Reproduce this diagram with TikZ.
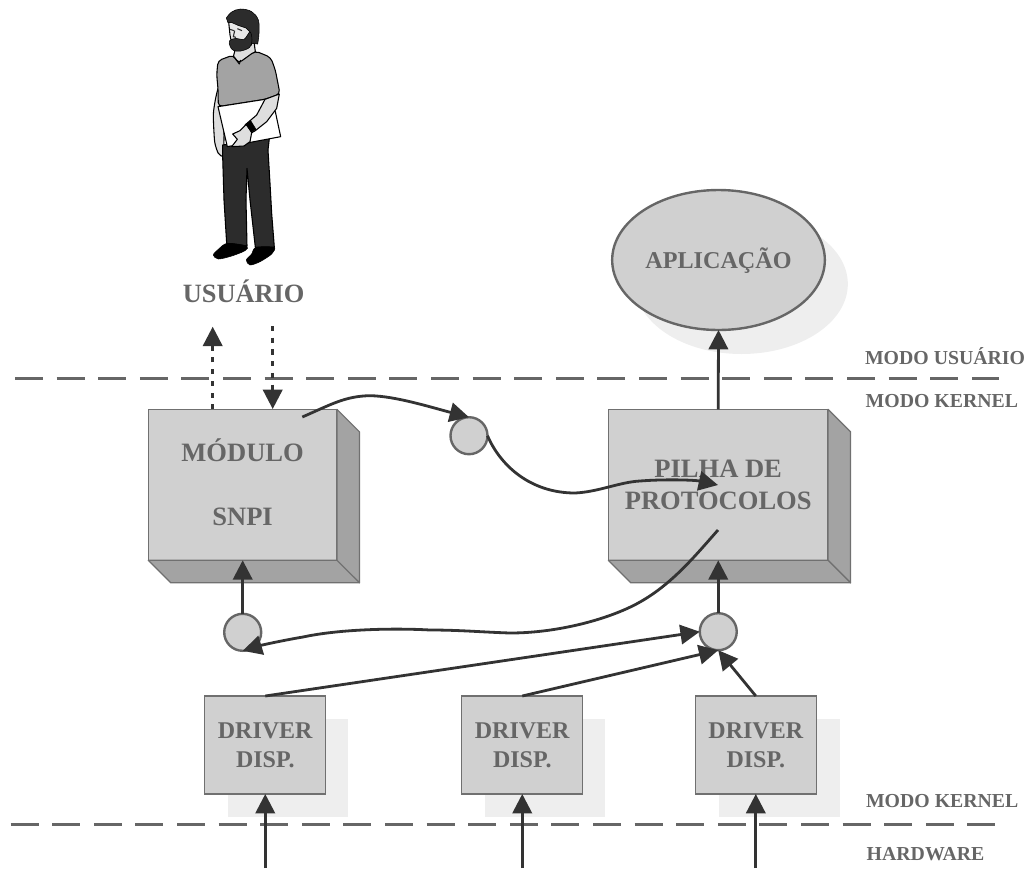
\documentclass[tikz,border=0pt]{standalone}
\usepackage{fontspec}
\setmainfont{Liberation Serif}
\usetikzlibrary{arrows.meta,shapes.geometric}
\definecolor{txtg}{HTML}{666666}
\definecolor{frontg}{HTML}{D0D0D0}
\definecolor{sideg}{HTML}{A3A3A3}
\definecolor{edgeg}{HTML}{707070}
\definecolor{shadowg}{HTML}{EEEEEE}
\definecolor{darkg}{HTML}{333333}
\definecolor{pantg}{HTML}{2C2C2C}
\definecolor{skin}{HTML}{DEDEDE}
\newcommand{\capln}[2]{\smash{#2}\rule{0pt}{#1}}
\tikzset{
  x=0.75pt,y=-0.75pt,
  boxfront/.style={draw=edgeg,fill=frontg,line width=0.9pt,inner sep=0pt,outer sep=0pt,minimum width=141.5pt,align=center,text=txtg},
  boxside/.style={draw=edgeg,fill=sideg,line width=0.9pt,line join=round},
  drv/.style={draw=edgeg,fill=frontg,line width=0.9pt,inner sep=0pt,outer sep=0pt,minimum width=90.6pt,minimum height=73.5pt,align=center,text=txtg,font=\bfseries\fontsize{18}{21.75}\selectfont},
  drvshadow/.style={fill=shadowg,inner sep=0pt,outer sep=0pt,minimum width=90.6pt,minimum height=73.5pt},
  junction/.style={circle,draw=txtg,fill=frontg,line width=1.8pt,inner sep=0pt,outer sep=0pt,minimum size=27.75pt},
  lbl/.style={text=txtg,inner sep=0pt,outer sep=0pt,font=\bfseries\fontsize{14.85}{17}\selectfont},
  sepline/.style={draw=txtg,line width=2.1pt,dash pattern=on 21pt off 10.2pt},
  conn/.style={draw=darkg,line width=2.1pt,-{Triangle[length=14.5pt,width=14.5pt]}},
  dotconn/.style={draw=darkg,line width=2.1pt,dash pattern=on 3.8pt off 5pt,-{Triangle[length=14.5pt,width=14.5pt]}},
  man/.style={draw=black,line width=0.8pt,line join=round},
}
\begin{document}
\begin{tikzpicture}
\useasboundingbox (0,0) rectangle (1027,868);

% ---- man (coordinates in 3x zoom of the region starting at x=150)
\begin{scope}[shift={(150,0)},scale=1/3]
  % left arm
  \draw[man,fill=skin] plot[smooth cycle,tension=0.4] coordinates {(206,262) (222,280) (214,325) (222,400) (219,466) (205,460) (194,425) (190,345) (196,300)};
  % trousers
  \draw[man,fill=pantg] (218,435) -- (358,415) -- (354,450) -- (360,550) -- (365,640) -- (373,742) -- (316,742) -- (300,600) -- (291,505) -- (288,600) -- (291,738) -- (230,730) -- (222,600) -- (218,470) -- cycle;
  % shoes
  \draw[fill=black,draw=black] plot[smooth cycle,tension=0.5] coordinates {(232,730) (290,738) (285,752) (245,768) (205,777) (190,765) (205,748)};
  \draw[fill=black,draw=black] plot[smooth cycle,tension=0.5] coordinates {(318,742) (372,742) (365,762) (330,785) (300,795) (289,780) (305,762)};
  % neck
  \draw[man,fill=skin] (258,140) -- (312,125) -- (316,155) -- (264,192) -- (250,170) -- cycle;
  % shirt
  \draw[man,fill=sideg,rounded corners=3pt] (204,182) -- (250,165) -- (265,190) -- (316,153) -- (362,172) -- (376,210) -- (390,282) -- (345,298) -- (205,320) -- (204,265) -- (200,225) -- cycle;
  % folder
  \draw[man,fill=white] (204,320) -- (345,298) -- (376,335) -- (392,410) -- (232,440) -- cycle;
  % forearm
  \draw[man,fill=skin] (345,298) -- (388,282) -- (380,325) -- (350,365) -- (316,392) -- (302,400) -- (285,375) -- (320,345) -- cycle;
  % hand
  \draw[man,fill=skin] (290,372) -- (305,398) -- (300,425) -- (282,438) -- (245,440) -- (262,418) -- (248,402) -- (270,392) -- cycle;
  % watch
  \draw[fill=black,draw=black] (287,373) -- (302,362) -- (318,388) -- (304,396) -- cycle;
  % face
  \draw[man,fill=skin!70!white] (236,66) -- (300,70) -- (304,135) -- (245,130) -- (240,105) -- cycle;
  % hair
  \draw[fill=pantg,draw=black] plot[smooth,tension=0.6] coordinates {(229,54) (245,36) (272,27) (305,35) (325,60) (327,100) (323,132)} -- (304,130) -- (300,96) -- (288,84) -- (264,76) -- (246,68) -- (234,68) -- cycle;
  % beard
  \draw[fill=pantg,draw=black] plot[smooth cycle,tension=0.6] coordinates {(239,122) (258,115) (282,118) (300,96) (306,120) (299,142) (272,153) (250,151) (240,138)};
  % eyes & nose
  \draw[pantg,line width=0.8pt] (240,88) -- (252,92) (262,86) -- (276,92) (254,92) -- (250,110) -- (258,112);
  % collar
  \draw[man,fill=none] (250,168) -- (268,192) -- (272,180);
\end{scope}

% ---- application ellipse
\node[ellipse,fill=shadowg,inner sep=0pt,minimum width=159.5pt,minimum height=105pt] (appshadow) at (741.5,284) {};
\node[ellipse,draw=txtg,fill=frontg,line width=1.8pt,inner sep=0pt,outer sep=0pt,minimum width=159.5pt,minimum height=105pt,text=txtg,font=\bfseries\fontsize{18.1}{22}\selectfont] (app) at (718.5,260) {\capln{12pt}{APLICAÇÃO}};

% ---- separator lines (under the connectors)
\coordinate (sepAl) at (15,378.3);
\coordinate (sepAr) at (999,378.3);
\coordinate (sepBl) at (10.6,824.3);
\coordinate (sepBr) at (995,824.3);

% ---- driver shadows
\node[drvshadow] (shA) at (288,767.7) {};
\node[drvshadow] (shB) at (545,767.7) {};
\node[drvshadow] (shC) at (779.3,767.7) {};
\draw[sepline] (sepAl) -- (sepAr);
\draw[sepline] (sepBl) -- (sepBr);

% ---- SNPI box
\node[boxfront,minimum height=113.25pt,font=\bfseries\fontsize{19.9}{48}\selectfont] (snpi) at (242.6,484.8) {\capln{13.1pt}{MÓDULO}\\\capln{13.1pt}{SNPI}};
\draw[boxside] (snpi.north east) -- ++(22.5,22.5) -- ++(0,151) -- ++(-22.5,-22.5) -- cycle;
\draw[boxside] (snpi.south west) -- ++(22.5,22.5) -- ++(188.7,0) -- (snpi.south east) -- cycle;

% ---- protocol stack box
\node[boxfront,minimum width=164.8pt,minimum height=113.25pt,font=\bfseries\fontsize{19.9}{24}\selectfont] (pilha) at (718.2,484.8) {\capln{13.1pt}{PILHA DE}\\\capln{13.1pt}{PROTOCOLOS}};
\draw[boxside] (pilha.north east) -- ++(22.5,22.5) -- ++(0,151) -- ++(-22.5,-22.5) -- cycle;
\draw[boxside] (pilha.south west) -- ++(22.5,22.5) -- ++(219.7,0) -- (pilha.south east) -- cycle;

% ---- drivers
\node[drv] (drvA) at (265.25,745) {\capln{12pt}{DRIVER}\\\capln{12pt}{DISP.}};
\node[drv] (drvB) at (522.25,745) {\capln{12pt}{DRIVER}\\\capln{12pt}{DISP.}};
\node[drv] (drvC) at (755.8,745) {\capln{12pt}{DRIVER}\\\capln{12pt}{DISP.}};

% ---- junctions
\node[junction] (cA) at (469,435.7) {};
\node[junction] (cB) at (242.7,632.3) {};
\node[junction] (cC) at (718.25,631.7) {};

% ---- labels
\node[text=txtg,inner sep=0pt,anchor=base west,font=\bfseries\fontsize{19.8}{24}\selectfont] (user) at (182.5,302.3) {USUÁRIO};
\node[lbl,anchor=base west] (lmu) at (865,364) {MODO USUÁRIO};
\node[lbl,anchor=base west] (lmk) at (865.7,407.3) {MODO KERNEL};
\node[lbl,anchor=base west] (lmk2) at (866,807) {MODO KERNEL};
\node[lbl,anchor=base west] (lhw) at (866.7,860) {HARDWARE};

% ---- free ends
\coordinate (hwA) at (drvA.north |- 0,868);
\coordinate (hwB) at (drvB.north |- 0,868);
\coordinate (hwC) at (drvC.north |- 0,868);
\coordinate (upS) at (212.7,326.7);
\coordinate (dnS) at (272.7,326);
\coordinate (snpiUp) at (212.7,409.3);
\coordinate (snpiDn) at (272.7,409);
\coordinate (snpiOut) at (302.3,417);
\coordinate (pilhaIn) at (718,485);
\coordinate (pilhaOut) at (718,530);

% ---- connectors
\draw[conn] (hwA) -- (drvA.south);
\draw[conn] (hwB) -- (drvB.south);
\draw[conn] (hwC) -- (drvC.south);
\draw[conn] (drvA.north) -- (cC.west);
\draw[conn] (drvB.north) -- (cC.south);
\draw[conn] (drvC.north) -- (cC.south);
\draw[conn] (cC.north) -- (cC.north |- pilha.south);
\draw[conn] (cB.north) -- (cB.north |- snpi.south);
\draw[conn] (pilha.north) -- (app.south);
\draw[dotconn] (snpiUp) -- (upS);
\draw[dotconn] (dnS) -- (snpiDn);
\draw[conn] (snpiOut) .. controls (330,405) and (345,396) .. (370,395.7) .. controls (395,396) and (430,407) .. (cA.north);
\draw[conn] (cA.east) .. controls (500,465) and (530,493) .. (575,493) .. controls (598,492) and (620,482) .. (640,481) .. controls (665,479) and (695,480) .. (pilhaIn);
\draw[conn] (pilhaOut) .. controls (695,556) and (672,584) .. (640,602) .. controls (612,618) and (560,633) .. (510,633) .. controls (480,632) and (460,630) .. (430,630) .. controls (395,628) and (340,629) .. (303,637) .. controls (285,640) and (262,645) .. (cB.south);
\end{tikzpicture}
\end{document}
